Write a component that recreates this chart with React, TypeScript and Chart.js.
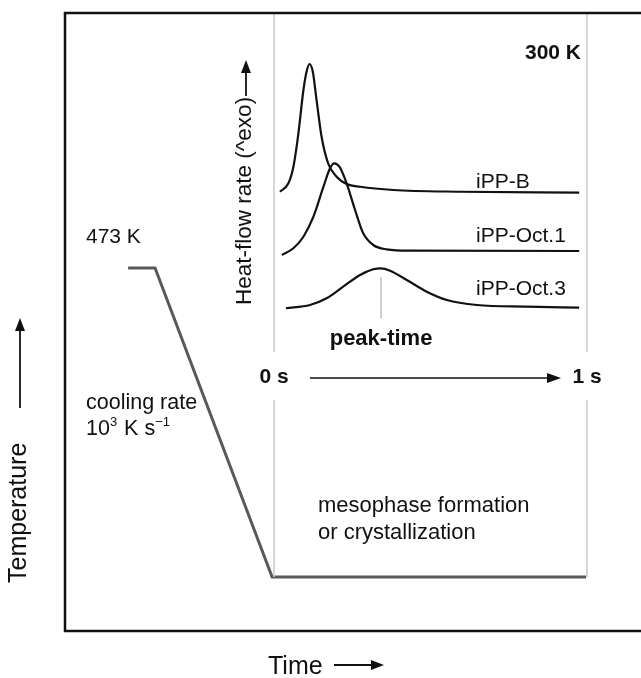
import { useEffect, useRef } from "react";
import { Chart, registerables } from "chart.js";

Chart.register(...registerables);

// Temperature programme (time in s relative to the start of the isotherm, temperature in K)
const profileTime = [-0.466, -0.38, -0.006, 0.997];
const profileTemp = [473, 473, 300, 300];

// Heat-flow rate curves (arbitrary units, offset for clarity)
const bTime = [0.019, 0.046, 0.062, 0.078, 0.094, 0.104, 0.113, 0.124, 0.136, 0.152, 0.173, 0.2, 0.232, 0.275, 0.381, 0.594, 0.975];
const bHeat = [71.08, 72.44, 75.13, 80.53, 87.54, 90.5, 91.75, 90.5, 85.92, 79.98, 75.68, 73.51, 72.33, 71.89, 71.36, 71.08, 70.92];

const oct1Time = [0.025, 0.062, 0.094, 0.126, 0.158, 0.179, 0.192, 0.209, 0.232, 0.259, 0.285, 0.317, 0.36, 0.435, 0.975];
const oct1Heat = [60.84, 61.93, 63.8, 67.04, 71.89, 74.87, 75.68, 75.13, 72.44, 68.12, 64.35, 62.46, 61.76, 61.54, 61.49];

const oct3Time = [0.038, 0.115, 0.168, 0.221, 0.275, 0.317, 0.341, 0.371, 0.424, 0.488, 0.552, 0.648, 0.807, 0.975];
const oct3Heat = [52.22, 52.75, 53.83, 55.71, 57.61, 58.53, 58.69, 58.3, 56.8, 54.9, 53.56, 52.75, 52.48, 52.31];

const seriesLabels = ["iPP-B", "iPP-Oct.1", "iPP-Oct.3"];
const windowTimes = [0, 1];
const windowLabels = ["0 s", "1 s"];
const peakTime = 0.342;
const peakTickHeat = [57.3, 50.6];
const windowGapTemp = [426, 399];
const startTempLabel = "473 K";
const isoTempLabel = "300 K";

const FONT = '"Liberation Sans", Arial, Helvetica, sans-serif';
const font = (size: number, bold = false) => `${bold ? "bold " : ""}${size}px ${FONT}`;

const zip = (xs: number[], ys: number[]) => xs.map((x, i) => ({ x, y: ys[i] }));

function arrow(ctx: CanvasRenderingContext2D, x1: number, y1: number, x2: number, y2: number, lw: number, hl: number, hw: number) {
  const a = Math.atan2(y2 - y1, x2 - x1);
  ctx.save();
  ctx.lineWidth = lw;
  ctx.strokeStyle = "#111";
  ctx.fillStyle = "#111";
  ctx.beginPath();
  ctx.moveTo(x1, y1);
  ctx.lineTo(x2 - Math.cos(a) * hl * 0.8, y2 - Math.sin(a) * hl * 0.8);
  ctx.stroke();
  ctx.beginPath();
  ctx.moveTo(x2, y2);
  ctx.lineTo(x2 - Math.cos(a) * hl + Math.sin(a) * hw / 2, y2 - Math.sin(a) * hl - Math.cos(a) * hw / 2);
  ctx.lineTo(x2 - Math.cos(a) * hl - Math.sin(a) * hw / 2, y2 - Math.sin(a) * hl + Math.cos(a) * hw / 2);
  ctx.closePath();
  ctx.fill();
  ctx.restore();
}

const annotations = {
  id: "annotations",
  afterDatasetsDraw(chart: any) {
    const { ctx, chartArea, scales } = chart;
    const xs = scales.x;
    ctx.save();
    // frame
    ctx.lineWidth = 2.5;
    ctx.strokeStyle = "#111";
    ctx.strokeRect(chartArea.left, chartArea.top, chartArea.right - chartArea.left + 20, chartArea.bottom - chartArea.top);

    ctx.fillStyle = "#111";
    ctx.textBaseline = "alphabetic";

    // isotherm label
    ctx.font = font(21, true);
    ctx.textAlign = "right";
    ctx.fillText(isoTempLabel, 581, 59);

    // series labels
    ctx.font = font(21);
    ctx.textAlign = "left";
    const base = [188, 241.5, 295];
    seriesLabels.forEach((s, i) => ctx.fillText(s, 476, base[i]));

    // peak-time
    ctx.font = font(22, true);
    ctx.textAlign = "center";
    ctx.textBaseline = "middle";
    ctx.fillText("peak-time", xs.getPixelForValue(peakTime), 339);

    // window labels
    ctx.font = font(21, true);
    windowLabels.forEach((s, i) => ctx.fillText(s, xs.getPixelForValue(windowTimes[i]), 377));
    arrow(ctx, 310, 378, 561, 378, 1.5, 14, 10);

    ctx.textBaseline = "alphabetic";
    ctx.textAlign = "left";
    ctx.font = font(21);
    ctx.fillText(startTempLabel, 86, 243);

    // cooling rate
    ctx.font = font(21.5);
    ctx.fillText("cooling rate", 86, 409);
    let cx = 86;
    const segs: [string, number, number][] = [
      ["10", 21.5, 0],
      ["3", 13, -9],
      [" K s", 21.5, 0],
      ["\u22121", 13, -9],
    ];
    segs.forEach(([t, sz, dy]) => {
      ctx.font = font(sz);
      ctx.fillText(t, cx, 435 + dy);
      cx += ctx.measureText(t).width + (sz < 20 ? 1 : 0);
    });

    // isotherm process
    ctx.font = font(22);
    ctx.fillText("mesophase formation", 318, 512);
    ctx.fillText("or crystallization", 318, 539);

    // Heat-flow label (rotated)
    ctx.save();
    ctx.translate(245, 305);
    ctx.rotate(-Math.PI / 2);
    ctx.font = font(22.5);
    ctx.textAlign = "left";
    ctx.textBaseline = "middle";
    ctx.fillText("Heat-flow rate (^exo)", 0, 0);
    ctx.restore();
    arrow(ctx, 246, 96, 246, 60, 1.8, 13, 10);

    // Temperature label
    ctx.save();
    ctx.translate(19, 583);
    ctx.rotate(-Math.PI / 2);
    ctx.font = font(25);
    ctx.textAlign = "left";
    ctx.textBaseline = "middle";
    ctx.fillText("Temperature", 0, 0);
    ctx.restore();
    arrow(ctx, 20, 408, 20, 318, 1.8, 13, 10);

    // Time label
    ctx.font = font(25);
    ctx.textAlign = "left";
    ctx.textBaseline = "alphabetic";
    ctx.fillText("Time", 268, 674);
    arrow(ctx, 334, 665, 384, 665, 1.8, 13, 10);

    ctx.restore();
  },
};

export default function App() {
  const ref = useRef<HTMLCanvasElement | null>(null);
  useEffect(() => {
    document.body.style.margin = "0";
    if (!ref.current) return;
    const topT = 615.77;
    const grey = "#c9c9c9";
    const chart = new Chart(ref.current, {
      type: "line",
      data: {
        datasets: [
          {
            data: [
              { x: windowTimes[0], y: topT },
              { x: windowTimes[0], y: windowGapTemp[0] },
              { x: windowTimes[0], y: null },
              { x: windowTimes[0], y: windowGapTemp[1] },
              { x: windowTimes[0], y: profileTemp[3] },
            ] as any,
            borderColor: grey,
            borderWidth: 1.5,
            pointRadius: 0,
            spanGaps: false,
            yAxisID: "y",
          },
          {
            data: [
              { x: windowTimes[1], y: topT },
              { x: windowTimes[1], y: windowGapTemp[0] },
              { x: windowTimes[1], y: null },
              { x: windowTimes[1], y: windowGapTemp[1] },
              { x: windowTimes[1], y: profileTemp[3] },
            ] as any,
            borderColor: grey,
            borderWidth: 1.5,
            pointRadius: 0,
            spanGaps: false,
            yAxisID: "y",
          },
          {
            data: peakTickHeat.map((h) => ({ x: peakTime, y: h })),
            borderColor: "#b0b0b0",
            borderWidth: 1.2,
            pointRadius: 0,
            yAxisID: "y2",
          },
          {
            data: zip(profileTime, profileTemp),
            borderColor: "#595959",
            borderWidth: 3,
            pointRadius: 0,
            tension: 0,
            yAxisID: "y",
          },
          {
            data: zip(bTime, bHeat),
            borderColor: "#111",
            borderWidth: 2.2,
            pointRadius: 0,
            cubicInterpolationMode: "monotone",
            yAxisID: "y2",
          },
          {
            data: zip(oct1Time, oct1Heat),
            borderColor: "#111",
            borderWidth: 2.2,
            pointRadius: 0,
            cubicInterpolationMode: "monotone",
            yAxisID: "y2",
          },
          {
            data: zip(oct3Time, oct3Heat),
            borderColor: "#111",
            borderWidth: 2.2,
            pointRadius: 0,
            cubicInterpolationMode: "monotone",
            yAxisID: "y2",
          },
        ],
      },
      options: {
        responsive: false,
        animation: false,
        devicePixelRatio: 1,
        layout: { padding: { left: 65, top: 13, right: 0, bottom: 47 } },
        plugins: { legend: { display: false }, tooltip: { enabled: false } },
        scales: {
          x: { type: "linear", min: -0.6677, max: 1.1725, display: false },
          y: { type: "linear", min: 269.77, max: topT, display: false },
          y2: { type: "linear", min: 0, max: 100, display: false },
        },
      },
      plugins: [annotations],
    });
    return () => chart.destroy();
  }, []);
  return (
    <div style={{ position: "absolute", left: 0, top: 0, width: 641, height: 678, background: "#fff" }}>
      <canvas ref={ref} width={641} height={678} />
    </div>
  );
}
